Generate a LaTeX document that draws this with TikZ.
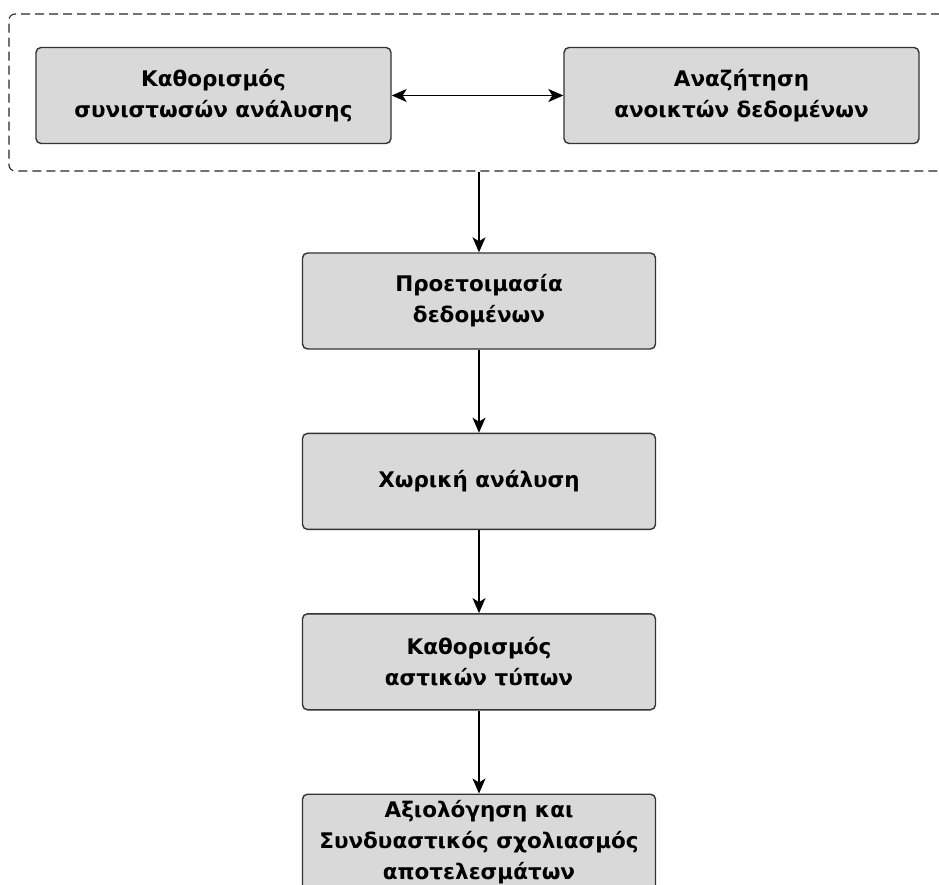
\documentclass[tikz,border=0pt]{standalone}
\usepackage{fontspec}
\setmainfont{DejaVu Sans}
\usetikzlibrary{arrows.meta,positioning}

\begin{document}
\begin{tikzpicture}[x=1pt,y=1pt,>={Stealth[length=15pt,width=13pt,inset=4pt]},
  stagebox/.style={draw=black!80,line width=1.4pt,fill=black!15,rounded corners=5pt,
    minimum width=353pt,minimum height=96pt,inner sep=0pt,align=center,
    font=\fontsize{21.5}{31}\selectfont\bfseries},
  groupbox/.style={draw=black!85,line width=1.1pt,dash pattern=on 9pt off 5pt,
    rounded corners=6pt,minimum width=951pt,minimum height=157pt,inner sep=0pt},
  flow/.style={->,line width=1.2pt},
  node distance=83pt]
  \useasboundingbox (0,0) rectangle (939,884);
  % dashed group round the first two steps
  \node[groupbox] (grp) at (484.5,791.5) {};
  \node[stagebox,minimum width=355pt] (comp) at (213.5,788.5) {Καθορισμός\\συνιστωσών ανάλυσης};
  \node[stagebox,minimum width=355pt] (open) at (741.5,788.5) {Αναζήτηση\\ανοικτών δεδομένων};
  \draw[flow,<->] (comp) -- (open);
  % main chain
  \node[stagebox] (prep) at (479,583) {Προετοιμασία\\δεδομένων};
  \node[stagebox,below=of prep] (spat) {Χωρική ανάλυση};
  \node[stagebox,below=of spat] (urban) {Καθορισμός\\αστικών τύπων};
  \node[stagebox,below=of urban] (eval) {Αξιολόγηση και\\Συνδυαστικός σχολιασμός\\αποτελεσμάτων};
  \draw[flow] (grp.south -| prep.north) -- (prep);
  \draw[flow] (prep) -- (spat);
  \draw[flow] (spat) -- (urban);
  \draw[flow] (urban) -- (eval);
\end{tikzpicture}
\end{document}
